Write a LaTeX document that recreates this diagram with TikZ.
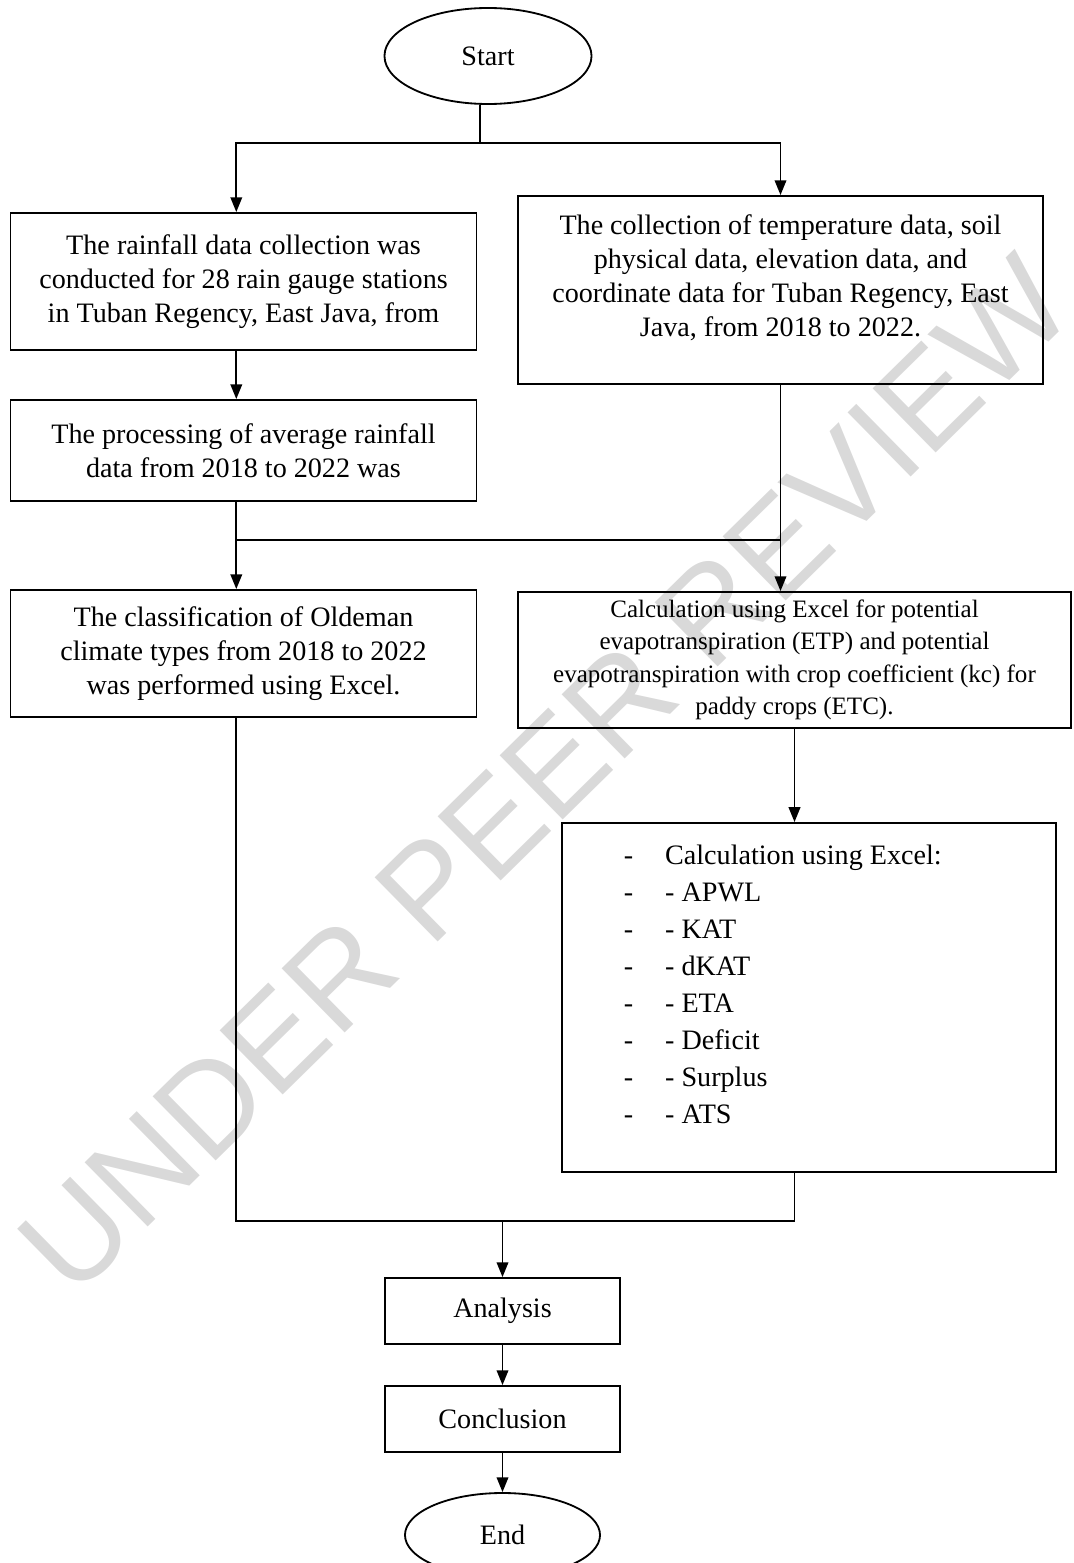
\documentclass[tikz,border=0pt]{standalone}
\usepackage{fontspec}
\setmainfont{Liberation Serif}
\newfontfamily\markfont{Liberation Sans}
\usepackage{tikz}
\usetikzlibrary{shapes.geometric,arrows.meta}

\newcommand{\dashline}[1]{\makebox[1.03cm][l]{-}#1}

\begin{document}
\begin{tikzpicture}[x=0.025cm, y=-0.025cm,
  box/.style={draw, line width=1.3pt, inner sep=0pt, align=center, font=\fontsize{20}{24.2}\selectfont},
  oval/.style={draw, ellipse, line width=1.3pt, inner sep=0pt, font=\fontsize{20}{24.2}\selectfont},
  link/.style={line width=1.3pt},
  arr/.style={line width=1.3pt, -{Triangle[length=0.37cm, width=0.29cm]}}]

\useasboundingbox (0,0) rectangle (1073,1563);

\node[rotate=44.5, text=black!15, font=\fontsize{93}{93}\selectfont\markfont] (mark) at (545,775) {UNDER PEER REVIEW};

\node[oval, minimum width=5.175cm, minimum height=2.4cm] (start) at (488,56) {Start};

\node[box, minimum width=11.65cm, minimum height=3.425cm] (rain) at (243.5,281.5)
  {The rainfall data collection was\\conducted for 28 rain gauge stations\\in Tuban Regency, East Java, from};
\node[box, minimum width=11.65cm, minimum height=2.525cm] (proc) at (243.5,450.5)
  {The processing of average rainfall\\data from 2018 to 2022 was};
\node[box, minimum width=13.125cm, minimum height=4.7cm] (temp) at (780.5,290)
  {\parbox[c][4.7cm][t]{13cm}{\centering\vspace*{0.46cm}The collection of temperature data, soil\\physical data, elevation data, and\\coordinate data for Tuban Regency, East\\Java, from 2018 to 2022.}};

\node[box, minimum width=11.65cm, minimum height=3.175cm] (olde) at (243.5,653.5)
  {The classification of Oldeman\\climate types from 2018 to 2022\\was performed using Excel.};
\node[box, minimum width=13.825cm, minimum height=3.4cm, font=\fontsize{17.8}{23}\selectfont] (etp) at (794.5,660)
  {Calculation using Excel for potential\\evapotranspiration (ETP) and potential\\evapotranspiration with crop coefficient (kc) for\\paddy crops (ETC).};

\node[box, minimum width=12.35cm, minimum height=8.725cm, font=\fontsize{20}{26.3}\selectfont] (list) at (809,997.5)
  {\parbox[c][8.725cm][t]{12.35cm}{\leftskip=1.55cm \parindent=0pt \vspace*{0.55cm}%
   \dashline{Calculation using Excel:}\\
   \dashline{- APWL}\\
   \dashline{- KAT}\\
   \dashline{- dKAT}\\
   \dashline{- ETA}\\
   \dashline{- Deficit}\\
   \dashline{- Surplus}\\
   \dashline{- ATS}\par}};

\node[box, minimum width=5.875cm, minimum height=1.65cm] (analysis) at (502.5,1311) {Analysis};
\node[box, minimum width=5.875cm, minimum height=1.65cm] (concl) at (502.5,1419) {Conclusion};
\node[oval, minimum width=4.875cm, minimum height=2.1cm] (end) at (502.5,1535) {End};

\coordinate (split) at (480,143);
\coordinate (join) at (780.5,540);
\coordinate (merge) at (502.5,1221);

\draw[link] (start.south -| split) -- (split);
\draw[arr] (split) -| ([xshift=-0.18cm]rain.north);
\draw[arr] (split) -| (temp.north);
\draw[arr] ([xshift=-0.18cm]rain.south) -- ([xshift=-0.18cm]proc.north);
\draw[link] ([xshift=-0.18cm]proc.south) |- (join);
\draw[arr] ([xshift=-0.18cm]proc.south) -- ([xshift=-0.18cm]olde.north);
\draw[arr] (temp.south) -- (temp.south |- etp.north);
\draw[arr] (etp.south) -- (etp.south |- list.north);
\draw[link] ([xshift=-0.18cm]olde.south) |- (etp.south |- merge) -- (etp.south |- list.south);
\draw[arr] (merge) -- (analysis);
\draw[arr] (analysis) -- (concl);
\draw[arr] (concl) -- (end);

\end{tikzpicture}
\end{document}
